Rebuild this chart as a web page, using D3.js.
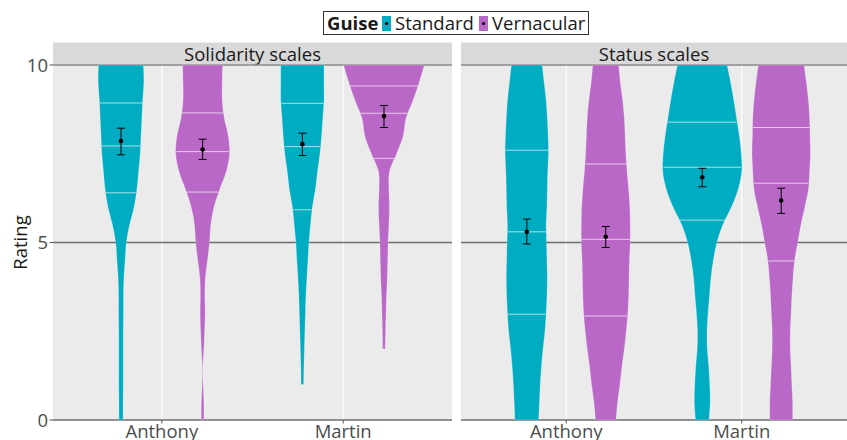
<!DOCTYPE html>
<html>
<head>
<meta charset="utf-8">
<script src="https://cdn.jsdelivr.net/npm/d3@7"></script>
<style>
  body { margin: 0; background: #fff; }
  svg { display: block; font-family: "Open Sans", "Noto Sans", sans-serif; }
</style>
</head>
<body>
<svg id="chart" width="847" height="440"></svg>
<script>
// ---- data ----
const scales = ['Solidarity scales', 'Status scales'];
const speakers = ['Anthony', 'Martin'];
const guises = ['Standard', 'Vernacular'];
const yTicks = [0, 5, 10];

// rating grid for the density estimates
const ratingGrid = [0, 0.5, 1, 1.5, 2, 2.5, 3, 3.5, 4, 4.5, 5, 5.5, 6, 6.5, 7, 7.5, 8, 8.5, 9, 9.5, 10];

// relative violin widths (1 = widest violin) along ratingGrid; null = outside data range
const solAnthonyStd = [.05, .05, .055, .055, .055, .055, .06, .06, .07, .10, .13, .21, .32, .39, .43, .47, .49, .51, .53, .56, .55];
const solAnthonyVer = [.033, .031, .012, .006, .031, .049, .061, .055, .067, .12, .17, .20, .28, .42, .58, .66, .63, .53, .48, .48, .49];
const solMartinStd = [null, null, .031, .037, .049, .061, .074, .086, .11, .135, .16, .20, .245, .32, .37, .43, .47, .50, .53, .53, .53];
const solMartinVer = [null, null, null, null, .031, .039, .049, .061, .08, .092, .10, .12, .135, .12, .135, .31, .47, .54, .71, .86, .99];
const staAnthonyStd = [.30, .32, .34, .37, .41, .46, .49, .51, .52, .51, .50, .49, .51, .52, .53, .55, .54, .52, .49, .44, .39];
const staAnthonyVer = [.26, .30, .36, .41, .47, .52, .56, .58, .59, .60, .62, .62, .61, .58, .54, .51, .49, .47, .43, .37, .33];
const staMartinStd = [.17, .20, .19, .165, .127, .12, .146, .184, .22, .28, .37, .52, .74, .91, 1.0, .99, .94, .87, .80, .72, .63];
const staMartinVer = [.29, .29, .27, .25, .23, .23, .25, .27, .30, .34, .42, .50, .60, .69, .72, .74, .73, .72, .69, .64, .58];

// quartile lines (25, 50, 75%)
const quartiles = [
  [6.40, 7.72, 8.93], [6.42, 7.56, 8.65], [5.92, 7.70, 8.92], [7.37, 8.64, 9.41],
  [2.98, 5.30, 7.60], [2.93, 5.09, 7.21], [5.63, 7.12, 8.39], [4.48, 6.67, 8.24]
];
// means and confidence intervals
const means = [7.86, 7.62, 7.77, 8.56, 5.30, 5.16, 6.84, 6.18];
const ciLow = [7.47, 7.34, 7.45, 8.24, 4.96, 4.86, 6.57, 5.82];
const ciHigh = [8.22, 7.91, 8.08, 8.86, 5.66, 5.45, 7.09, 6.53];

const densities = [solAnthonyStd, solAnthonyVer, solMartinStd, solMartinVer,
                   staAnthonyStd, staAnthonyVer, staMartinStd, staMartinVer];

const colors = { Standard: '#00ACC1', Vernacular: '#BA68C8' };
const fontSize = 18.5;

// build one record per violin
const violins = [];
let k = 0;
scales.forEach(s => speakers.forEach(sp => guises.forEach(g => {
  violins.push({ scale: s, speaker: sp, guise: g, dens: densities[k], q: quartiles[k],
                 mean: means[k], lo: ciLow[k], hi: ciHigh[k] });
  k++;
})));

// ---- layout ----
const svg = d3.select('#chart');
const plotTop = 65, plotBottom = 420;
const panels = [{ x0: 53, x1: 452 }, { x0: 461, x1: 847 }];

const y = d3.scaleLinear().domain([0, 10]).range([plotBottom, plotTop]);

// legend
const legend = svg.append('g');
legend.append('rect').attr('x', 323.5).attr('y', 11.5).attr('width', 265).attr('height', 23)
  .attr('fill', 'white').attr('stroke', '#333').attr('stroke-width', 1);
legend.append('text').attr('x', 327).attr('y', 30).attr('font-size', fontSize).attr('font-weight', 'bold')
  .attr('fill', '#1a1a1a').text('Guise');
const legX = [382, 479];
guises.forEach((g, i) => {
  legend.append('rect').attr('x', legX[i]).attr('y', 16).attr('width', 9).attr('height', 15).attr('fill', colors[g]);
  legend.append('circle').attr('cx', legX[i] + 4.5).attr('cy', 23.5).attr('r', 1.6).attr('fill', 'black');
  legend.append('text').attr('x', legX[i] + 13).attr('y', 30).attr('font-size', fontSize).attr('fill', '#1a1a1a').text(g);
});

// y axis title
svg.append('text').attr('transform', `translate(27,${(plotTop + plotBottom) / 2}) rotate(-90)`)
  .attr('text-anchor', 'middle').attr('font-size', fontSize).attr('fill', '#1a1a1a').text('Rating');

scales.forEach((s, pi) => {
  const p = panels[pi];
  const x = d3.scalePoint().domain(speakers).range([p.x0, p.x1]).padding(0.6);
  const step = x.step();
  const g = svg.append('g');

  // panel background + strip
  g.append('rect').attr('x', p.x0).attr('y', plotTop).attr('width', p.x1 - p.x0).attr('height', plotBottom - plotTop).attr('fill', '#EBEBEB');
  g.append('rect').attr('x', p.x0).attr('y', 42.5).attr('width', p.x1 - p.x0).attr('height', plotTop - 42.5).attr('fill', '#D9D9D9');
  g.append('text').attr('x', (p.x0 + p.x1) / 2).attr('y', 60.5).attr('text-anchor', 'middle')
    .attr('font-size', fontSize).attr('fill', '#1a1a1a').text(s);

  // vertical gridlines
  g.selectAll('.vg').data(speakers).enter().append('line')
    .attr('x1', d => x(d)).attr('x2', d => x(d)).attr('y1', plotTop).attr('y2', plotBottom)
    .attr('stroke', 'white').attr('stroke-width', 1.1);

  // horizontal reference lines
  g.selectAll('.hg').data(yTicks).enter().append('line')
    .attr('x1', p.x0).attr('x2', p.x1).attr('y1', d => y(d)).attr('y2', d => y(d))
    .attr('stroke', d => d === 10 ? '#8a8a8a' : '#6e6e6e').attr('stroke-width', d => d === 10 ? 1.4 : 1.6);

  // x axis ticks + labels
  g.selectAll('.xt').data(speakers).enter().append('line')
    .attr('x1', d => x(d)).attr('x2', d => x(d)).attr('y1', plotBottom).attr('y2', plotBottom + 3.5)
    .attr('stroke', '#555').attr('stroke-width', 1);
  g.selectAll('.xl').data(speakers).enter().append('text')
    .attr('x', d => x(d)).attr('y', 438).attr('text-anchor', 'middle')
    .attr('font-size', fontSize).attr('fill', '#4d4d4d').text(d => d);

  const dodge = d => x(d.speaker) + (d.guise === 'Standard' ? -0.225 : 0.225) * step;
  const halfMax = 0.225 * step;

  violins.filter(v => v.scale === s).forEach(v => {
    const cx = dodge(v);
    const pts = ratingGrid.map((r, i) => ({ r, w: v.dens[i] })).filter(d => d.w !== null);
    const area = d3.area()
      .y(d => y(d.r))
      .x0(d => cx - d.w * halfMax)
      .x1(d => cx + d.w * halfMax)
      .curve(d3.curveCatmullRom.alpha(0.5));
    g.append('path').datum(pts).attr('d', area)
      .attr('fill', colors[v.guise]).attr('stroke', 'white').attr('stroke-opacity', 0.35).attr('stroke-width', 0.6);

    // quartile lines
    const widthAt = r => {
      const i = Math.min(pts.length - 2, d3.bisectRight(pts.map(d => d.r), r) - 1);
      const a = pts[Math.max(0, i)], b = pts[Math.max(0, i) + 1];
      const t = (r - a.r) / (b.r - a.r);
      return (a.w + (b.w - a.w) * t) * halfMax;
    };
    v.q.forEach(qv => {
      const hw = widthAt(qv) - 0.5;
      g.append('line').attr('x1', cx - hw).attr('x2', cx + hw).attr('y1', y(qv)).attr('y2', y(qv))
        .attr('stroke', 'white').attr('stroke-opacity', 0.65).attr('stroke-width', 1);
    });

    // mean and CI
    g.append('line').attr('x1', cx).attr('x2', cx).attr('y1', y(v.lo)).attr('y2', y(v.hi))
      .attr('stroke', 'black').attr('stroke-width', 1);
    [v.lo, v.hi].forEach(e => {
      g.append('line').attr('x1', cx - 4).attr('x2', cx + 4).attr('y1', y(e)).attr('y2', y(e))
        .attr('stroke', 'black').attr('stroke-width', 1);
    });
    g.append('circle').attr('cx', cx).attr('cy', y(v.mean)).attr('r', 2.3).attr('fill', 'black');
  });

  // y axis on first panel
  if (pi === 0) {
    const ya = svg.append('g');
    ya.selectAll('.yt').data(yTicks).enter().append('line')
      .attr('x1', p.x0 - 3.5).attr('x2', p.x0).attr('y1', d => y(d)).attr('y2', d => y(d))
      .attr('stroke', '#555').attr('stroke-width', 1);
    ya.selectAll('.yl').data(yTicks).enter().append('text')
      .attr('x', p.x0 - 5).attr('y', d => y(d) + 6.5).attr('text-anchor', 'end')
      .attr('font-size', fontSize).attr('fill', '#4d4d4d').text(d => d);
  }
});
</script>
</body>
</html>
